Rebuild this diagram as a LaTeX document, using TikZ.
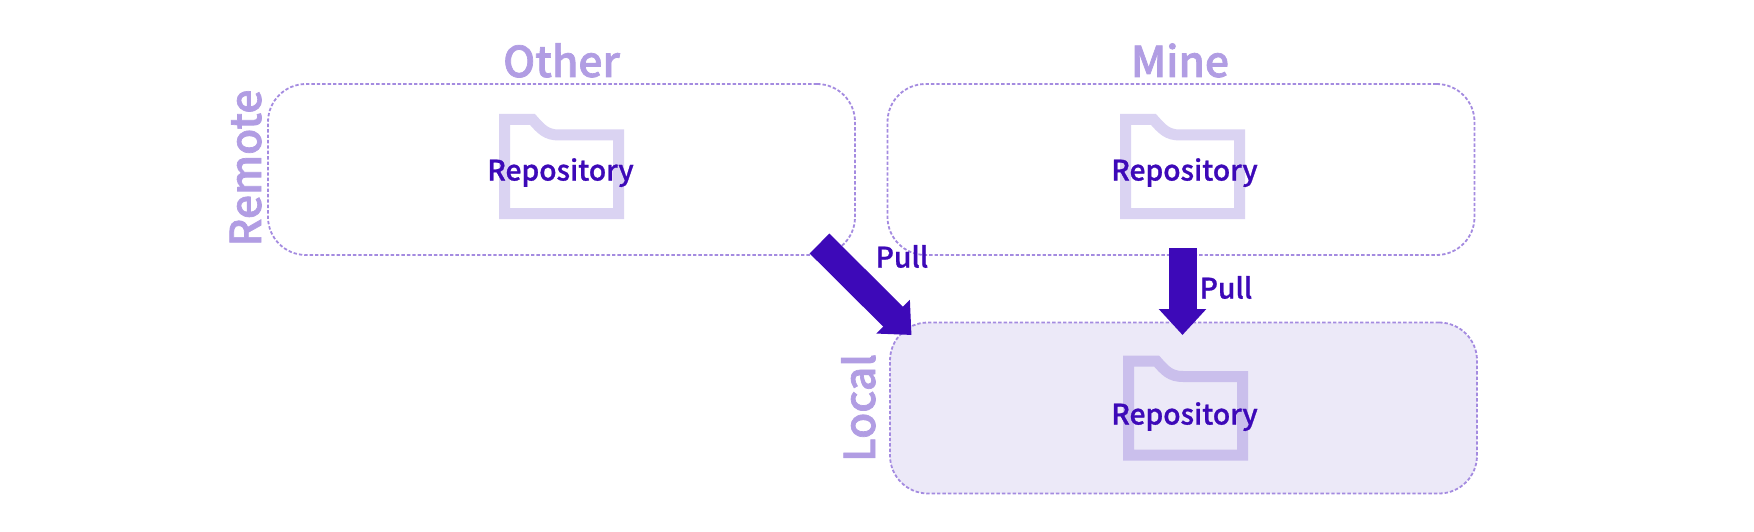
\documentclass[tikz,border=0pt]{standalone}
\usepackage{fontspec}
\setmainfont[RawFeature={embolden=0.9}]{Noto Sans CJK JP Medium}
\newfontfamily\titlefont[RawFeature={embolden=1.7}]{Noto Sans CJK JP Medium}
\usetikzlibrary{arrows.meta}
\definecolor{ink}{HTML}{3D09B8}
\definecolor{lab}{HTML}{B19DE3}
\definecolor{dash}{HTML}{A48BE0}
\definecolor{fold}{HTML}{DAD3F2}
\definecolor{foldb}{HTML}{CABFEC}
\definecolor{fillb}{HTML}{ECE9F8}
\tikzset{
  x=1pt,y=-1pt,
  areabox/.style={draw=dash,line width=1.8pt,dash pattern=on 3.4pt off 2pt,rounded corners=38pt,
    minimum width=587pt,minimum height=171pt,inner sep=0pt,outer sep=0pt},
  title/.style={text=lab,font=\titlefont\fontsize{42.5}{42}\selectfont,anchor=base,inner sep=0pt},
  side/.style={title,rotate=90},
  repo/.style={text=ink,font=\fontsize{28.2}{28}\selectfont,anchor=base,inner sep=0pt},
  pull/.style={repo,anchor=base west},
  folder/.style={line width=11pt,miter limit=10},
  fat/.style={draw=ink,line width=28pt,-{Triangle[length=26pt,width=46pt,color=ink]}},
}
\newcommand{\folderpath}[3]{\draw[folder,draw=#3,shift={(#1,#2)}]
  (5.5,5.5) -- (33.5,5.5) .. controls (42,15) and (47,21) .. (60,21) -- (119.5,21) -- (119.5,99.5) -- (5.5,99.5) -- cycle;}
\begin{document}
\begin{tikzpicture}
\useasboundingbox (0,0) rectangle (1754,532);
\node[areabox] (other) at (561.5,169.5) {};
\node[areabox] (mine) at (1181,169.5) {};
\node[areabox,fill=fillb] (local) at (1183.5,408) {};
\folderpath{499}{114}{fold}
\folderpath{1120}{114}{fold}
\folderpath{1123}{355.5}{foldb}
\node[repo] (r1) at (560.5,180.5) {Repository};
\node[repo] (r2) at (1184.5,180.5) {Repository};
\node[repo] (r3) at (1184.5,424.5) {Repository};
\node[title] (tother) at (561.5,77) {Other};
\node[title] (tmine) at (1180,77) {Mine};
\node[side] (tremote) at (261,168) {Remote};
\node[side] (tlocal) at (875,408) {Local};
\coordinate (a1) at (819.5,243.5);
\coordinate (a1e) at (911.5,335);
\coordinate (a2) at (1182.5,248);
\coordinate (a2e) at (1182.5,335);
\draw[fat] (a1) -- (a1e);
\draw[fat] (a2) -- (a2e);
\node[pull] (p1) at (875.5,267.5) {Pull};
\node[pull] (p2) at (1199.5,298.5) {Pull};
\end{tikzpicture}
\end{document}
